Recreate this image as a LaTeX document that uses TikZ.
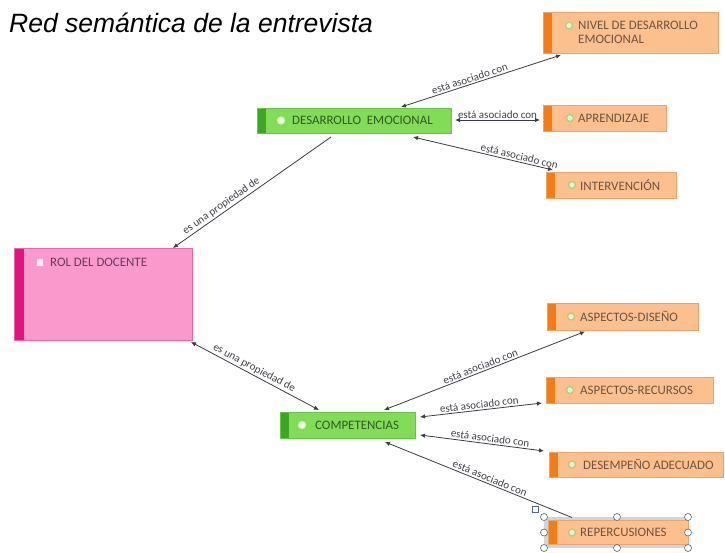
\documentclass[tikz,border=0pt]{standalone}
\usepackage{fontspec}
\setmainfont{Liberation Sans}
\newfontfamily\nodefont{Carlito}
\usetikzlibrary{arrows.meta,calc}
\definecolor{orfill}{HTML}{FBC08E}
\definecolor{orbar}{HTML}{F57C14}
\definecolor{ordraw}{HTML}{EBA46A}
\definecolor{ortxt}{HTML}{6E5440}
\definecolor{grfill}{HTML}{82DC58}
\definecolor{grbar}{HTML}{3DA624}
\definecolor{grdraw}{HTML}{6CC444}
\definecolor{grtxt}{HTML}{2F5A25}
\definecolor{pkfill}{HTML}{FA9ACC}
\definecolor{pkbar}{HTML}{E4127F}
\definecolor{pkdraw}{HTML}{E46AA8}
\definecolor{pktxt}{HTML}{6A3A58}
\definecolor{lncol}{HTML}{3C3C46}
\definecolor{lbtxt}{HTML}{404048}
\definecolor{icfill}{HTML}{E4F3D2}
\definecolor{icdraw}{HTML}{A5D27A}
\definecolor{selbg}{HTML}{C9D6E4}
\definecolor{seldraw}{HTML}{56657C}
\begin{document}
\begin{tikzpicture}[x=1pt,y=-1pt,
  basebox/.style={inner sep=0pt, outer sep=0pt, line width=0.6pt},
  obox/.style={basebox, draw=ordraw, fill=orfill,
    path picture={\fill[orbar] (path picture bounding box.north west) rectangle ([xshift=9pt]path picture bounding box.south west);}},
  gbox/.style={basebox, draw=grdraw, fill=grfill,
    path picture={\fill[grbar] (path picture bounding box.north west) rectangle ([xshift=9pt]path picture bounding box.south west);}},
  pbox/.style={basebox, draw=pkdraw, fill=pkfill,
    path picture={\fill[pkbar] (path picture bounding box.north west) rectangle ([xshift=10pt]path picture bounding box.south west);}},
  ntxt/.style={anchor=west, inner sep=0pt, font=\nodefont\fontsize{12.9}{13.5}\selectfont},
  otxt/.style={ntxt, text=ortxt},
  gtxt/.style={ntxt, text=grtxt},
  ptxt/.style={ntxt, text=pktxt},
  icon/.style={circle, draw=icdraw, fill=icfill, line width=1.2pt, minimum size=7pt, inner sep=0pt},
  link/.style={draw=lncol, line width=0.8pt},
  both/.style={{Latex[length=5pt,width=4.5pt]}-{Latex[length=5pt,width=4.5pt]}},
  lbl/.style={sloped, above, inner sep=1.5pt, text=lbtxt, font=\nodefont\fontsize{11}{12}\selectfont},
  handle/.style={circle, draw=seldraw, fill=white, line width=0.6pt, minimum size=7pt, inner sep=0pt}
]
\fill[white] (0,0) rectangle (725,552);
\useasboundingbox (0,0) rectangle (725,552);

% title
\node[anchor=base west, inner sep=0pt, font=\itshape\fontsize{26.5}{30}\selectfont] (title) at (9,32) {Red semántica de la entrevista};

% nodes
\node[obox, minimum width=175pt, minimum height=41pt] (niv) at (630.5,32.5) {};
\node[icon] (nivI) at ([xshift=26pt,yshift=7pt]niv.west) {};
\node[otxt, align=left] (nivT) at ([xshift=35pt]niv.west) {NIVEL DE DESARROLLO\\EMOCIONAL};

\node[gbox, minimum width=194pt, minimum height=25pt] (des) at (354,120.5) {};
\node[icon, draw=white!70!grfill, fill=white!85!grfill] (desI) at ([xshift=24pt]des.west) {};
\node[gtxt] (desT) at ([xshift=35pt]des.west) {DESARROLLO\ \ EMOCIONAL};

\node[obox, minimum width=123pt, minimum height=26pt] (apr) at (604.5,118) {};
\node[icon] (aprI) at ([xshift=27pt]apr.west) {};
\node[otxt] (aprT) at ([xshift=35pt]apr.west) {APRENDIZAJE};

\node[obox, minimum width=130pt, minimum height=26pt] (int) at (611,185) {};
\node[icon] (intI) at ([xshift=26pt]int.west) {};
\node[otxt] (intT) at ([xshift=34pt]int.west) {INTERVENCIÓN};

\node[pbox, minimum width=178pt, minimum height=92pt] (rol) at (103,294) {};
\node[draw=white!40!pkdraw, fill=white!75!pkfill, line width=0.6pt, minimum width=7pt, minimum height=8pt, inner sep=0pt] (rolI) at ([xshift=26pt,yshift=32pt]rol.west) {};
\node[ptxt] (rolT) at ([xshift=36pt,yshift=32pt]rol.west) {ROL DEL DOCENTE};

\node[obox, minimum width=151pt, minimum height=27pt] (dis) at (622.5,316.5) {};
\node[icon] (disI) at ([xshift=24pt]dis.west) {};
\node[otxt] (disT) at ([xshift=33pt]dis.west) {ASPECTOS-DISEÑO};

\node[obox, minimum width=167pt, minimum height=26pt] (rec) at (629.5,390) {};
\node[icon] (recI) at ([xshift=24pt]rec.west) {};
\node[otxt] (recT) at ([xshift=34pt]rec.west) {ASPECTOS-RECURSOS};

\node[gbox, minimum width=135pt, minimum height=26pt] (com) at (347.5,425) {};
\node[icon, draw=white!70!grfill, fill=white!85!grfill] (comI) at ([xshift=22pt]com.west) {};
\node[gtxt] (comT) at ([xshift=35pt]com.west) {COMPETENCIAS};

\node[obox, minimum width=174pt, minimum height=25pt] (ade) at (636,464.5) {};
\node[icon] (adeI) at ([xshift=23pt]ade.west) {};
\node[otxt] (adeT) at ([xshift=34pt]ade.west) {DESEMPEÑO ADECUADO};

% selected node REPERCUSIONES
\node[basebox, fill=selbg, minimum width=144pt, minimum height=31pt] (sel) at (616,532.5) {};
\node[obox, minimum width=140pt, minimum height=24pt] (rep) at (618,532.5) {};
\node[icon] (repI) at ([xshift=24pt]rep.west) {};
\node[otxt] (repT) at ([xshift=32pt]rep.west) {REPERCUSIONES};
\node[handle] (h1) at (sel.north west) {};
\node[handle] (h2) at ([xshift=1pt]sel.north) {};
\node[handle] (h3) at (sel.north east) {};
\node[handle] (h4) at (sel.west) {};
\node[handle] (h5) at (sel.east) {};
\node[handle] (h6) at (sel.south west) {};
\node[handle] (h7) at ([xshift=1pt]sel.south) {};
\node[handle] (h8) at (sel.south east) {};
\node[draw=seldraw, fill=white, line width=0.6pt, minimum size=6pt, inner sep=0pt] (hsq) at ([xshift=-9pt,yshift=8pt]sel.north west) {};

% connectors
\draw[link, -{Latex[length=5pt,width=4.5pt]}] ([xshift=-23pt,yshift=-4pt]des.south) -- node[lbl, pos=0.67] {es una propiedad de} ([xshift=70pt]rol.north);
\draw[link, {Latex[length=5pt,width=4.5pt]}-{Latex[length=5pt,width=4.5pt]}] ([xshift=-1pt,yshift=-2pt]rol.south east) -- node[lbl, pos=0.47] {es una propiedad de} ([xshift=-28.5pt,yshift=2pt]com.north);

\draw[link, both] ([xshift=47pt,yshift=1pt]des.north) -- node[lbl, pos=0.44] {está asociado con} ([xshift=-69.5pt,yshift=-2pt]niv.south);
\draw[link, both] ([xshift=4pt,yshift=0.5pt]des.east) -- node[lbl, pos=0.5] {está asociado con} ([xshift=-3pt,yshift=-2pt]apr.west);
\draw[link, both] ([xshift=59pt,yshift=-4pt]des.south) -- node[lbl, pos=0.75] {está asociado con} ([xshift=-58pt,yshift=2pt]int.north);

\draw[link, both] ([xshift=36.5pt,yshift=2pt]com.north) -- node[lbl, pos=0.49] {está asociado con} ([xshift=-37.5pt,yshift=-1.5pt]dis.south);
\draw[link, both] ([xshift=5pt,yshift=8pt]com.east) -- node[lbl, pos=0.49] {está asociado con} ([xshift=-4pt,yshift=-13pt]rec.west);
\draw[link, both] ([xshift=5pt,yshift=-10pt]com.east) -- node[lbl, pos=0.56] {está asociado con} ([xshift=-5pt,yshift=13.5pt]ade.west);
\draw[link, {Latex[length=5pt,width=4.5pt]}-] ([xshift=37.5pt,yshift=-4pt]com.south) -- node[lbl, pos=0.55] {está asociado con} ([xshift=-46pt,yshift=3pt]rep.north);
\end{tikzpicture}
\end{document}
